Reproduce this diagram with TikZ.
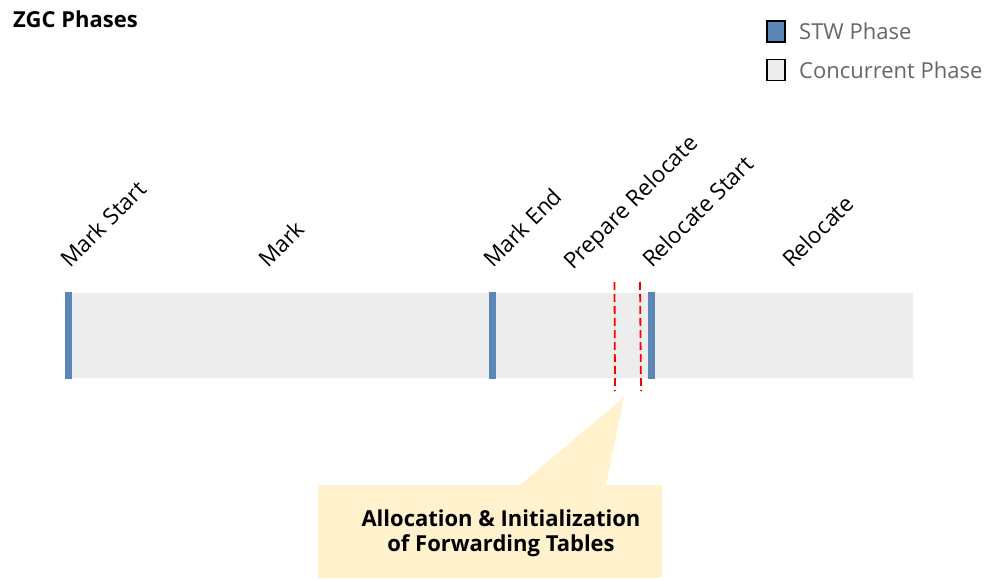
\documentclass[tikz,border=0pt]{standalone}
\usepackage{fontspec}
\setmainfont{Open Sans}
\definecolor{stw}{HTML}{5B86B6}
\definecolor{conc}{HTML}{EDEDED}
\definecolor{note}{HTML}{FFF2CC}
\definecolor{legtxt}{HTML}{666666}
\begin{document}
\begin{tikzpicture}[x=1pt,y=1pt,
  stwbar/.style={fill=stw,draw=none,inner sep=0pt,minimum width=6.5pt,minimum height=87pt},
  phaselabel/.style={rotate=45,anchor=base west,inner sep=0pt,font=\fontsize{22.5}{26}\selectfont},
  legbox/.style={draw=black,line width=1.2pt,minimum width=18pt,minimum height=21pt,inner sep=0pt},
  legtext/.style={anchor=west,inner sep=0pt,text=legtxt,font=\fontsize{22}{26}\selectfont},
  redline/.style={red,line width=1.8pt,dash pattern=on 8pt off 4pt}]
\useasboundingbox (0,0) rectangle (1000,-578);
% title
\node[anchor=west,inner sep=0pt,font=\bfseries\fontsize{22}{26}\selectfont] (title) at (13,-19) {ZGC Phases};
% legend
\node[legbox,fill=stw] (lstw) at (776,-31.5) {};
\node[legtext] (lstwt) at (799,-31) {STW Phase};
\node[legbox,fill=conc] (lconc) at (776,-70) {};
\node[legtext] (lconct) at (799,-70) {Concurrent Phase};
% bar
\node[fill=conc,draw=none,inner sep=0pt,minimum width=848pt,minimum height=85pt,anchor=north west] (bar) at (65,-293) {};
\node[stwbar,anchor=north west] (s1) at (65,-292) {};
\node[stwbar,anchor=north west] (s2) at (489,-292) {};
\node[stwbar,anchor=north west] (s3) at (648,-292) {};
% labels
\node[phaselabel] (l1) at (70,-269) {Mark Start};
\node[phaselabel] (l2) at (268,-269) {Mark};
\node[phaselabel] (l3) at (493,-269) {Mark End};
\node[phaselabel] (l4) at (573,-271) {Prepare Relocate};
\node[phaselabel] (l5) at (652,-269) {Relocate Start};
\node[phaselabel] (l6) at (792,-269) {Relocate};
% dashed lines
\coordinate (d1a) at (614.5,-282);
\coordinate (d1b) at (615,-391);
\coordinate (d2a) at (640,-282);
\coordinate (d2b) at (641,-391);
\draw[redline] (d1a) -- (d1b);
\draw[redline] (d2a) -- (d2b);
% callout
\fill[note] (318,-485) -- (520,-485) -- (624,-397) -- (606,-485) -- (662,-485) -- (662,-578) -- (318,-578) -- cycle;
\node[align=center,inner sep=0pt,font=\bfseries\fontsize{22}{25}\selectfont] (note) at (501,-533) {Allocation \& Initialization\\of Forwarding Tables};
\end{tikzpicture}
\end{document}
